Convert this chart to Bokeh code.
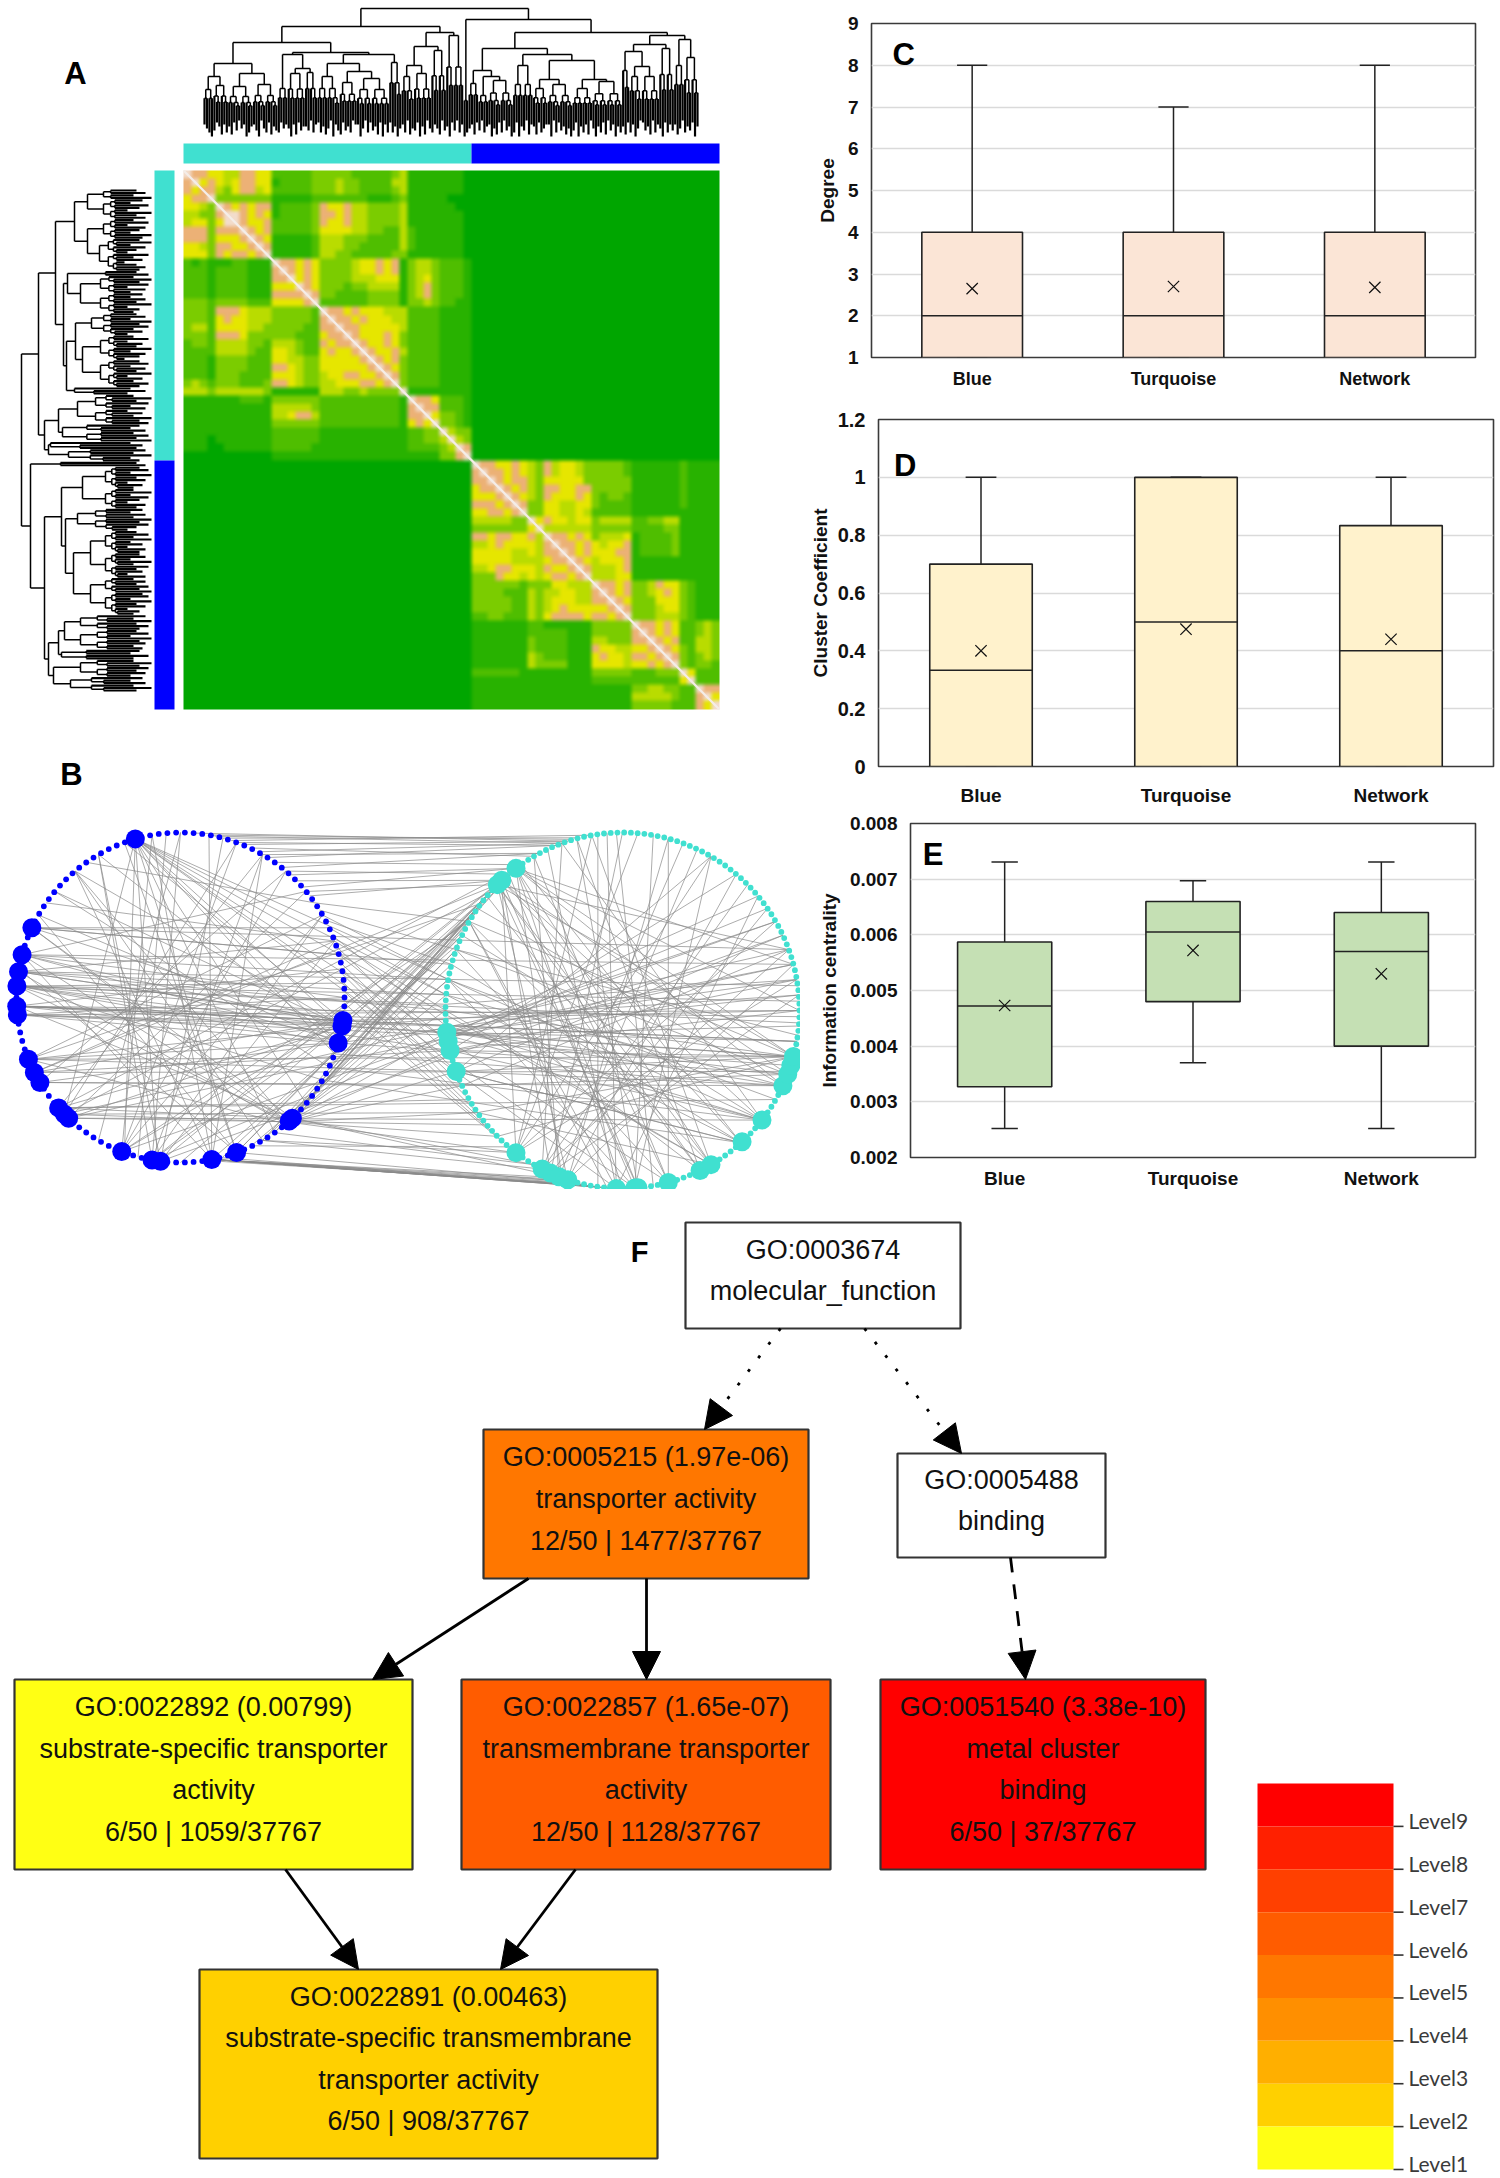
from bokeh.plotting import figure
from bokeh.layouts import row, column
from bokeh.models import (ColumnDataSource, FactorRange, FixedTicker, Label, Arrow, NormalHead)
from bokeh.core.properties import value
from bokeh.transform import dodge
from bokeh.embed import file_html
from bokeh.resources import INLINE
import math
import numpy as np

SANS = "Liberation Sans"

# ---------- panel A : heat levels (upper triangle of each module, read row by row) ----------
LEVEL_COLORS = ["#00A600", "#28B200", "#4FBE00", "#7CCC00", "#B9DC00", "#E6E600", "#ECB176", "#F3DCCB"]
TURQ_ROWS = [
 "7665 5446655 22222 3 3333222223 4 11111110",
 "756 5456655 12222 3 3343322224 4 11111110",
 "66 4356645 22222 3 3343322223 4 11111110",
 "7 3333333 11111 2 2222221112 3 11111000",
 "7656566 122223 6556443333 4 11111100",
 "776565 122223 6656443333 4 11111110",
 "76556 222223 6556443333 4 11111110",
 "7656 222223 5555443322 4 21111110",
 "765 111112 4443332222 4 21111110",
 "76 111112 4443322222 4 21111110",
 "7 111112 4433222223 3 11111110",
 "766565 3333455656 1 3443 2221",
 "76565 3333455656 1 3443 2221",
 "7565 3333444555 1 3453 2221",
 "765 3332334444 1 3463 2221",
 "76 3322223333 1 3463 2221",
 "7 2222223333 1 3343 2211",
 "7665655544 4 2222 1111",
 "766565554 4 2222 1111",
 "76655555 4 2222 1111",
 "7655565 3 2222 1111",
 "765565 3 2222 1111",
 "76556 4 2222 1111",
 "7656 3 2222 1111",
 "765 3 2222 1111",
 "76 3 2222 1111",
 "7 3 2222 1111",
 "7 1111 1111",
 "7665 2221",
 "766 2221",
 "75 3321",
 "7 3321",
 "7433",
 "743",
 "76",
 "7",
]
BLUE_ROWS = [
 "7665565 43 645543 33332 1111112 1111",
 "766565 43 645543 33332 1111112 1111",
 "76566 43 555553 33333 1111112 1111",
 "7656 43 665566 33333 1111112 1111",
 "765 43 655565 32332 1111112 1111",
 "76 33 554455 32222 1111112 1111",
 "7 33 554454 22222 1111111 1111",
 "75 655455 34444 2233441 1111",
 "7 444444 33333 2222331 1111",
 "766565 34445 1222231 1111",
 "76656 54556 1222231 1111",
 "7656 55566 1222231 1111",
 "765 45556 1111111 1111",
 "76 44456 1111111 1111",
 "7 44455 1111111 1111",
 "76656 334655 32 111",
 "7656 334565 32 111",
 "765 333555 32 111",
 "76 333455 32 111",
 "7 333444 32 111",
 "766565 22 343",
 "76565 22 343",
 "7656 22 443",
 "765 32 443",
 "76 32 343",
 "7 32 332",
 "75 222",
 "7 222",
 "766",
 "75",
 "7",
]

# ---------- panel A : dendrograms  [merge depth, child, child]; (depth, leaf tips) = fine cluster ----------
TOP_TREE = [8,
 [26,
  [42,
   [63,
    [76, (89, "3579"), (85, "624837")],
    [73, (86, "4826153974"), (84, "3691572846")]],
   [52,
    [54, (88, "7253"), [68, (73, "5938264"), (72, "46173")]],
    [54,
     [63,
      [76, (88, "2748"), (88, "51936")],
      [71, (82, "8264713"), [78, (89, "395172"), (89, "6482937")]]],
     (62, "27495")]]],
  [32,
   [46, [65, (76, "37185"), (73, "6294815")], (50, "735816")],
   (35, "4926173")]],
 [19,
  (100, "97"),
  [32,
   [48,
    [70, (83, "5382"), [76, (95, "6174"), (80, "3958271649")]],
    [54,
     (65, "72946183"),
     [60,
      [79, (88, "482753"), (84, "3917264859")],
      [79, (88, "62947381"), (81, "594728163947")]]]],
   [35,
    [44,
     [51, (70, "482"), [66, (76, "73951"), (76, "2648173")]],
     (48, "592736")],
    [39, (65, "3851"), (57, "746294")]]]]]

LEFT_TREE = [21,
 [38,
  [55,
   [74,
    [87, (103, "4739"), (103, "62851947")],
    [87, (103, "38175296"), (99, "5927418360475")]],
   [63,
    [67, (105, "48"), [80, (100, "3958172"), (100, "62749153")]],
    [66,
     [75,
      (91, "472958361"),
      [82, (100, "3816492750"), (100, "58274916385")]],
     (74, "271")]]],
  [44,
   [58, (77, "394827163958"), (62, "5273849")],
   [48, (50, "264"), (68, "73925")]]],
 [30,
  (60, "47"),
  [44,
   [61,
    [82, (105, "582947163"), (105, "39285174")],
    [65,
     (77, "627395841"),
     [73,
      [90, (105, "483926175"), (105, "5729384617")],
      [90, (105, "374859"), (105, "682947153")]]]],
   [48,
    [58, [64, (80, "739485"), (80, "48295736")], (61, "5283")],
    [53, (80, "3958472"), (70, "627394")]]]]]

# ---------- panel B : network, node angles in degrees ----------
BLUE_HUBS = [106, 155, 165, 171, 176, 183, 186, 202, 207, 211, 222, 225, 227, 249, 260, 263, 281, 290, 311.5, 313, 344, 350, 352]
TURQ_HUBS = [127, 133, 135, 187, 190, 193, 200, 233, 243, 246, 249, 252, 268, 274, 275, 285, 296, 300, 312.5, 322, 335, 339, 342, 345]
BLUE_EDGES = [(106,250),(106,305),(106,290),(106,262),(106,225),(106,320),(106,340),(106,350),(155,350),(155,15),(155,25),(155,311),
 (165,0),(165,40),(165,345),(165,281),(171,352),(171,20),(171,310),(176,355),(176,5),(176,350),(176,330),(183,345),(183,352),(183,10),
 (186,350),(186,0),(186,344),(202,350),(202,344),(202,30),(202,310),(207,352),(207,20),(211,344),(211,50),(222,350),(222,60),(222,313),
 (225,70),(225,311),(227,350),(227,40),(249,100),(249,70),(249,50),(249,30),(249,352),(260,90),(260,60),(260,30),(260,350),(263,120),
 (263,75),(263,20),(281,130),(281,100),(281,60),(281,80),(290,150),(290,110),(290,170),(311,130),(311,165),(311,176),(313,155),(313,183),
 (344,106),(344,120),(344,150),(344,176),(350,140),(350,165),(350,130),(352,183),(352,110),(352,171),(145,20),(140,335),(130,300),(125,35),(120,260),(95,255),(90,240)]
TURQ_EDGES = [(127,300),(127,270),(127,250),(127,285),(127,335),(127,345),(127,0),(127,15),(133,246),(133,233),(133,274),(133,312),(133,322),
 (133,339),(135,252),(135,275),(135,296),(135,300),(135,345),(135,20),(187,345),(187,350),(187,5),(187,339),(187,15),(187,30),(187,335),
 (188,322),(188,40),(188,355),(193,0),(193,10),(193,345),(193,322),(193,50),(200,345),(200,25),(200,335),(200,312),(200,60),(233,85),(233,100),
 (233,60),(233,30),(233,10),(243,70),(243,45),(243,20),(243,110),(246,90),(246,35),(246,5),(249,65),(249,120),(252,15),(252,50),(252,75),
 (268,95),(268,115),(268,40),(268,150),(274,80),(274,60),(274,170),(275,130),(275,105),(285,120),(285,160),(285,75),(296,140),(296,105),
 (296,170),(300,150),(300,180),(300,100),(312,165),(312,125),(312,200),(322,155),(322,185),(322,110),(335,145),(335,175),(339,160),(339,205),
 (342,190),(345,180),(345,150),(345,215),(160,352),(170,330),(178,10),(205,20),(215,300),(225,345),(150,265),(92,280),(98,262)]
CROSS_EDGES = [(85,108),(80,106),(75,104),(78,110),(72,100),(70,112),(68,108),(65,120),(62,110),(60,118),(58,112),(55,125),(52,118),(50,130),
 (48,127),(45,133),(42,127),(40,135),(38,133),(35,150),(32,160),(30,170),(28,165),(25,175),(22,185),(20,180),(18,195),(15,190),(12,200),
 (10,205),(8,210),(5,215),(2,220),(358,225),(355,228),(281,268),(281,266),(281,264),(281,262),(281,260),(281,258),(281,256),(281,254),
 (281,252),(281,250),(279,258),(284,262),(290,255),(311,200),(311,193),(311,187),(311,205),(311,215),(311,225),(311,233),(313,180),(313,175),
 (313,170),(313,240),(313,250),(300,233),(300,243),(296,230),(305,240),(344,133),(350,140),(352,148),(340,135),(335,155),(330,133),(325,145),
 (320,160),(315,135),(311,152),(311,127),(305,142),(300,127),(290,135),(281,158),(270,147),(263,133),(260,127),(249,150),(225,138),(222,127),
 (207,135),(202,143),(310,150),(305,160),(300,165),(295,170),(290,145),(285,155),(171,180),(176,178),(183,183),(186,185),(186,188),(183,187),
 (176,193),(171,175),(165,170),(155,165),(202,200),(207,193),(211,205),(222,210),(225,215),(227,220),(176,356),(183,358),(186,0),(176,3),
 (171,8),(165,15),(155,20),(202,345),(207,340),(211,335),(222,330),(227,322),(183,350),(352,350),(350,345),(344,339),(352,0),(350,5),(344,10),
 (340,335),(335,322),(330,312),(249,30),(260,35),(263,25),(225,20),(227,15),(106,322),(106,300),(106,285),(106,274),(106,268),(106,312)]

# ---------- panels C, D, E : box plots ----------
CATEGORIES = ["Blue", "Turquoise", "Network"]
DEG = dict(low=[1, 1, 1], q1=[1, 1, 1], med=[2, 2, 2], q3=[4, 4, 4], high=[8, 7, 8], mean=[2.65, 2.70, 2.68])
CC = dict(low=[0, 0, 0], q1=[0, 0, 0], med=[0.333, 0.5, 0.4], q3=[0.7, 1.0, 0.833], high=[1, 1, 1], mean=[0.40, 0.475, 0.44])
IC = dict(low=[0.00252, 0.0037, 0.00252], q1=[0.00327, 0.0048, 0.0040], med=[0.00472, 0.00605, 0.0057],
          q3=[0.00587, 0.0066, 0.0064], high=[0.00731, 0.00697, 0.00731], mean=[0.00473, 0.00572, 0.0053])

# ---------- panel F : GO graph ----------
GO_LINES = [["GO:0003674", "molecular_function"],
            ["GO:0005215 (1.97e-06)", "transporter activity", "12/50 | 1477/37767"],
            ["GO:0005488", "binding"],
            ["GO:0022892 (0.00799)", "substrate-specific transporter", "activity", "6/50 | 1059/37767"],
            ["GO:0022857 (1.65e-07)", "transmembrane transporter", "activity", "12/50 | 1128/37767"],
            ["GO:0051540 (3.38e-10)", "metal cluster", "binding", "6/50 | 37/37767"],
            ["GO:0022891 (0.00463)", "substrate-specific transmembrane", "transporter activity", "6/50 | 908/37767"]]
GO_FILL = ["#FFFFFF", "#FF7700", "#FFFFFF", "#FFFF14", "#FF5C00", "#FF0000", "#FFD000"]
GO_LEFT = [685, 483, 897, 14, 461, 880, 199]
GO_RIGHT = [960, 808, 1105, 412, 830, 1205, 657]
GO_TOP = [1222, 1429, 1453, 1679, 1679, 1679, 1969]
GO_BOTTOM = [1328, 1578, 1557, 1869, 1869, 1869, 2158]
GO_ARROWS = [(780, 1328, 704, 1429, "3 14"), (864, 1328, 961, 1453, "3 14"), (1010, 1557, 1025, 1679, "15 12"),
             (528, 1578, 372, 1679, "solid"), (646, 1578, 646, 1679, "solid"), (285, 1869, 358, 1969, "solid"), (575, 1869, 500, 1969, "solid")]
LEVELS = ["Level9", "Level8", "Level7", "Level6", "Level5", "Level4", "Level3", "Level2", "Level1"]
LEVEL_FILL = ["#FF0000", "#FF2000", "#FF4000", "#FF5C00", "#FF7700", "#FF8F00", "#FFAF00", "#FFD000", "#FFFF14"]


def bare(width, height, x_range, y_range):
    p = figure(width=width, height=height, x_range=x_range, y_range=y_range, output_backend="svg",
               toolbar_location=None, min_border=0, outline_line_color=None, background_fill_color="white")
    p.axis.visible = False
    p.grid.visible = False
    return p


ab = bare(800, 1200, (0, 800), (1200, 0))


def panel_letter(p, x, y, t, size="31px"):
    p.text(x=[x], y=[y], text=[t], text_font=value(SANS), text_font_size=size, text_font_style="bold",
           text_align="center", text_baseline="middle", text_color="black")


panel_letter(ab, 75, 73, "A")
panel_letter(ab, 71, 774, "B")

# colour bars
ab.quad(left=[183, 471], right=[471, 719], top=[143, 143], bottom=[163, 163], fill_color=["#40E0D0", "#0000FF"], line_color=None)
ab.quad(left=[154, 154], right=[174, 174], top=[170, 460], bottom=[460, 709], fill_color=["#40E0D0", "#0000FF"], line_color=None)

# heatmap, drawn from the typed levels with a slight blur
HX, HY, HW, HH = 183, 170, 536, 539


def rgb(h):
    return [int(h[i:i + 2], 16) for i in (1, 3, 5)]


canvas = np.zeros((HH, HW, 3), dtype=float)
canvas[:, :] = rgb(LEVEL_COLORS[0])
for rows, x0, y0, cw, ch in [(TURQ_ROWS, 183, 170, 8, 290 / 36), (BLUE_ROWS, 471, 460, 8, 249 / 31)]:
    rows = [r.replace(" ", "") for r in rows]
    n = len(rows)
    for i, r in enumerate(rows):
        for k, c in enumerate(r):
            j = i + k
            if j >= n:
                continue
            for a, b in {(i, j), (j, i)}:
                ya, yb = int(y0 + a * ch - HY), int(y0 + (a + 1) * ch - HY)
                xa, xb = int(x0 + b * cw - HX), int(x0 + (b + 1) * cw - HX)
                canvas[ya:yb, xa:xb] = rgb(LEVEL_COLORS[int(c)])
kernel = np.array([1, 2, 3, 3, 3, 2, 1], dtype=float)
kernel /= kernel.sum()
for axis in (0, 1):
    canvas = np.apply_along_axis(lambda v: np.convolve(np.pad(v, 3, mode="edge"), kernel, mode="valid"), axis, canvas)
img = np.zeros((HH, HW), dtype=np.uint32)
view = img.view(dtype=np.uint8).reshape((HH, HW, 4))
view[:, :, :3] = np.clip(canvas, 0, 255).astype(np.uint8)
view[:, :, 3] = 255
ab.image_rgba(image=[img], x=[HX], y=[HY], dw=[HW], dh=[HH])
ab.line(x=[183, 719], y=[170, 709], line_color="#F4EDE8", line_width=2.2)


# dendrograms
def count_leaves(n):
    if isinstance(n, tuple):
        return len(n[1])
    return count_leaves(n[1]) + count_leaves(n[2])


def draw_tree(tree, start, extent, tip0, tip_step, limit):
    thin, thick = [], []
    step = extent / (count_leaves(tree) - 1)
    counter = [0]

    def fine(tips, h, k):
        if len(tips) == 1:
            v = start + counter[0] * step
            counter[0] += 1
            return v, tip0 + int(tips) * tip_step, True
        m = len(tips) // 2
        d = h + max(limit - h, 0) * (1 - 0.58 ** k)
        a = fine(tips[:m], h, k + 1)
        b = fine(tips[m:], h, k + 1)
        return join(d, a, b)

    def join(d, a, b):
        thin.append((a[0], d, b[0], d))
        for c in (a, b):
            (thick if c[2] else thin).append((c[0], d, c[0], c[1]))
        return (a[0] + b[0]) / 2, d, False

    def walk(n):
        if isinstance(n, tuple):
            return fine(n[1], n[0], 0)
        a = walk(n[1])
        b = walk(n[2])
        return join(n[0], a, b)

    walk(tree)
    return thin, thick


def put_segments(segs, width, swap):
    i, j = (1, 0) if swap else (0, 1)
    ab.segment(x0=[s[i] for s in segs], y0=[s[j] for s in segs], x1=[s[i + 2] for s in segs], y1=[s[j + 2] for s in segs],
               line_color="black", line_width=width)


thin, thick = draw_tree(TOP_TREE, 204, 493, 118, 2, 110)
put_segments(thin, 1.5, False)
put_segments(thick, 2.2, False)
thin, thick = draw_tree(LEFT_TREE, 190, 500, 124, 3, 120)
put_segments(thin, 1.5, True)
put_segments(thick, 2.2, True)

# network
BC = (180, 997, 164, 165)
TC = (622, 1010, 177, 178)


def on_ring(c, deg):
    a = math.radians(deg)
    return c[0] + c[2] * math.cos(a), c[1] - c[3] * math.sin(a)


ex0, ey0, ex1, ey1 = [], [], [], []
for pairs, ca, cb in [(BLUE_EDGES, BC, BC), (TURQ_EDGES, TC, TC), (CROSS_EDGES, BC, TC)]:
    for a, b in pairs:
        x0, y0 = on_ring(ca, a)
        x1, y1 = on_ring(cb, b)
        ex0.append(x0); ey0.append(y0); ex1.append(x1); ey1.append(y1)
ab.segment(x0=ex0, y0=ey0, x1=ex1, y1=ey1, line_color="#8A8A8A", line_width=0.95, line_alpha=0.75)

for c, n, hubs, col in [(BC, 118, BLUE_HUBS, "#0000FF"), (TC, 165, TURQ_HUBS, "#40E0D0")]:
    pts = [on_ring(c, 360 * k / n) for k in range(n)]
    ab.circle(x=[q[0] for q in pts], y=[q[1] for q in pts], radius=2.9, fill_color=col, line_color=None)
    pts = [on_ring(c, d) for d in hubs]
    ab.circle(x=[q[0] for q in pts], y=[q[1] for q in pts], radius=9.5, fill_color=col, line_color=None)
ab.quad(left=[520], right=[800], top=[1188.5], bottom=[1200], fill_color="white", line_color=None)


# box plots
def box_panel(data, ylab, yr, ticks, labels, height, bl, br, bt, bb, fill, letter, lx, ly, capw, standoff, tick_size, cat_size, xstand):
    src = ColumnDataSource(dict(cat=CATEGORIES, **data))
    p = figure(width=700, height=height, x_range=FactorRange(*CATEGORIES, factor_padding=0, range_padding=0), y_range=yr,
               output_backend="svg", toolbar_location=None, min_border_left=bl, min_border_right=br,
               min_border_top=bt, min_border_bottom=bb, outline_line_color="#3A3A3A", outline_line_width=1.6)
    p.xgrid.visible = False
    p.ygrid.grid_line_color = "#DADADA"
    p.ygrid.grid_line_width = 1.5
    p.yaxis.ticker = FixedTicker(ticks=ticks)
    p.yaxis.major_label_overrides = dict(zip(ticks, labels))
    p.yaxis.axis_label = ylab
    p.yaxis.axis_label_text_font = SANS
    p.yaxis.axis_label_text_font_style = "bold"
    p.yaxis.axis_label_text_font_size = "19px"
    p.yaxis.axis_label_text_color = "#111111"
    p.yaxis.axis_label_standoff = standoff
    for ax, size in ((p.xaxis[0], cat_size), (p.yaxis[0], tick_size)):
        ax.axis_line_color = None
        ax.major_tick_line_color = None
        ax.minor_tick_line_color = None
        ax.major_label_text_font = SANS
        ax.major_label_text_font_style = "bold"
        ax.major_label_text_font_size = size
        ax.major_label_text_color = "#111111"
    p.yaxis[0].major_label_standoff = 7
    p.xaxis[0].major_label_standoff = xstand
    dark = "#222222"
    p.segment(x0="cat", y0="low", x1="cat", y1="high", source=src, line_color=dark, line_width=1.5)
    for key in ("low", "high"):
        p.segment(x0=dodge("cat", -capw, range=p.x_range), y0=key, x1=dodge("cat", capw, range=p.x_range), y1=key,
                  source=src, line_color=dark, line_width=1.5)
    p.vbar(x="cat", top="q3", bottom="q1", width=0.5, source=src, fill_color=fill, line_color=dark, line_width=1.6)
    p.segment(x0=dodge("cat", -0.25, range=p.x_range), y0="med", x1=dodge("cat", 0.25, range=p.x_range), y1="med",
              source=src, line_color=dark, line_width=1.5)
    p.scatter(x="cat", y="mean", source=src, marker="x", size=16, line_color="#111111", line_width=1.2)
    p.add_layout(Label(x=lx, y=ly, text=letter, text_font=SANS, text_font_style="bold", text_font_size="31px",
                       text_align="center", text_baseline="middle", text_color="black"))
    return p


pC = box_panel(DEG, "Degree", (1, 9), [1, 2, 3, 4, 5, 6, 7, 8, 9], ["1", "2", "3", "4", "5", "6", "7", "8", "9"],
               400, 71, 25, 23, 43, "#FBE5D6", "C", 0.16, 8.25, 0.075, 7, "19px", "18px", 5)
pD = box_panel(CC, "Cluster Coefficient", (0, 1.2), [0, 0.2, 0.4, 0.6, 0.8, 1.0, 1.2], ["0", "0.2", "0.4", "0.6", "0.8", "1", "1.2"],
               410, 78, 7, 19, 44, "#FFF2CC", "D", 0.13, 1.04, 0.075, 4, "20px", "19px", 12)
pE = box_panel(IC, "Information centrality", (0.002, 0.008), [0.002, 0.003, 0.004, 0.005, 0.006, 0.007, 0.008],
               ["0.002", "0.003", "0.004", "0.005", "0.006", "0.007", "0.008"],
               390, 110, 25, 13, 43, "#C5E0B4", "E", 0.12, 0.00744, 0.07, 7, "19px", "19px", 4)

# GO graph
pf = bare(1500, 978, (0, 1500), (2178, 1200))
for x0, y0, x1, y1, dash in GO_ARROWS:
    pf.add_layout(Arrow(end=NormalHead(size=28, fill_color="black", line_color="black", line_width=1),
                        x_start=x0, y_start=y0, x_end=x1, y_end=y1, line_color="black", line_width=2.8, line_dash=dash))
pf.quad(left=GO_LEFT, right=GO_RIGHT, top=GO_TOP, bottom=GO_BOTTOM, fill_color=GO_FILL, line_color="#333333", line_width=2.2)
tx, ty, tt = [], [], []
for lines, l, r, t, b in zip(GO_LINES, GO_LEFT, GO_RIGHT, GO_TOP, GO_BOTTOM):
    for k, s in enumerate(lines):
        tx.append((l + r) / 2)
        ty.append((t + b) / 2 - 5 + (k - (len(lines) - 1) / 2) * 41.6)
        tt.append(s)
pf.text(x=tx, y=ty, text=tt, text_font=value(SANS), text_font_size="27px", text_align="center", text_baseline="middle", text_color="#111111")
panel_letter(pf, 639, 1251, "F", "29px")

# level legend
band = (2169 - 1783) / len(LEVELS)
tops = [1783 + i * band for i in range(len(LEVELS))]
bots = [t + band for t in tops]
pf.quad(left=1257, right=1393, top=tops, bottom=bots, fill_color=LEVEL_FILL, line_color=None)
pf.segment(x0=[1393] * 9, y0=bots, x1=[1403] * 9, y1=bots, line_color="#333333", line_width=1.6)
pf.text(x=[1408] * 9, y=[b - 6 for b in bots], text=LEVELS, text_font=value("Lato"), text_font_size="21px",
        text_align="left", text_baseline="middle", text_color="#3A3A3A")

page = column(row(ab, column(row(pC), row(pD), row(pE))), pf)
open("out.html", "w").write(file_html(page, INLINE))
